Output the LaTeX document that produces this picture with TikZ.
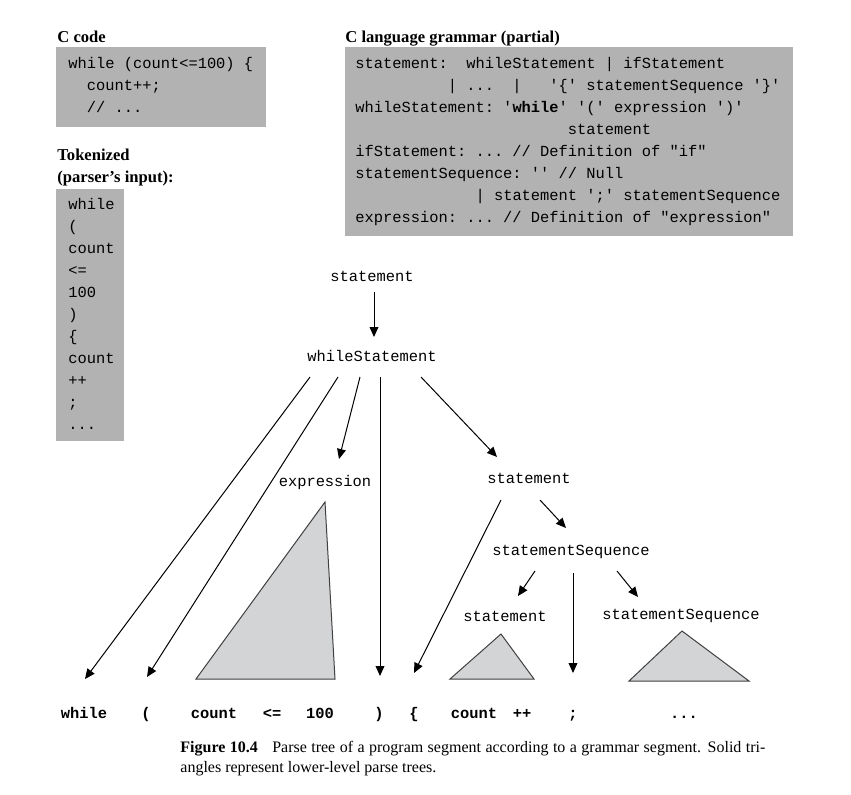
\documentclass[tikz,border=0pt]{standalone}
\usepackage{fontspec}
\setmainfont{Liberation Serif}
\setmonofont{Liberation Mono}[WordSpace={1,0,0}]
\usetikzlibrary{arrows.meta}
\definecolor{boxgray}{RGB}{178,178,178}
\definecolor{trigray}{RGB}{211,212,214}
\tikzset{
  code/.style={font=\ttfamily\fontsize{7.7}{11}\selectfont\frenchspacing, inner sep=0pt},
  nonterm/.style={code, anchor=base},
  termtok/.style={inner sep=0pt, anchor=base, font=\ttfamily\bfseries\fontsize{7.7}{11}\selectfont},
  heading/.style={inner sep=0pt, anchor=base west, font=\bfseries\fontsize{8.3}{11}\selectfont},
  arr/.style={-{Triangle[length=5pt,width=4.4pt]}, line width=0.5pt},
  subtree/.style={fill=trigray, draw=black!75, line width=0.5pt}
}
\begin{document}
\begin{tikzpicture}[x=0.5pt, y=-0.5pt]
  \useasboundingbox (0,0) rectangle (851,794);

  % source, grammar and token boxes (base = last line)
  \fill[boxgray] (56,47) rectangle (266,127);
  \fill[boxgray] (345,47) rectangle (793,236);
  \fill[boxgray] (56,189) rectangle (124,441);

  \node[heading] (hcode) at (57,42) {C code};
  \node[heading] (hgram) at (345,42) {C language grammar (partial)};
  \node[heading] (htok) at (57,160) {Tokenized};
  \node[heading] (htokb) at (57,182) {(parser’s input):};

  \node[code, align=left, anchor=base west] (csrc) at (68,112)
    {while (count<=100) \{\\~~count++;\\~~// ...};
  \node[code, align=left, anchor=base west] (gram) at (355,222)
    {statement:~~whileStatement | ifStatement\\
     ~~~~~~~~~~| ...~~|~~~'\{' statementSequence '\}'\\
     whileStatement: '\textbf{while}' '(' expression ')'\\
     ~~~~~~~~~~~~~~~~~~~~~~~statement\\
     ifStatement: ... // Definition of "if"\\
     statementSequence: '' // Null\\
     ~~~~~~~~~~~~~| statement ';' statementSequence\\
     expression: ... // Definition of "expression"};
  \node[code, align=left, anchor=base west] (toks) at (68,429)
    {while\\(\\count\\<=\\100\\)\\\{\\count\\++\\;\\...};

  % parse tree
  \node[nonterm] (stmtTop) at (372,281) {statement};
  \node[nonterm] (whileSt) at (372,361) {whileStatement};
  \node[nonterm] (expr) at (325,486) {expression};
  \node[nonterm] (stmtR) at (529,483) {statement};
  \node[nonterm] (seq) at (571,555) {statementSequence};
  \node[nonterm] (stmtL) at (505,621) {statement};
  \node[nonterm] (seqR) at (681,619) {statementSequence};

  % terminals
  \node[termtok] (tWhile) at (84,718) {while};
  \node[termtok] (tLParen) at (146,718) {(};
  \node[termtok] (tCount) at (214,718) {count};
  \node[termtok] (tLeq) at (272,718) {<=};
  \node[termtok] (tHundred) at (320,718) {100};
  \node[termtok] (tRParen) at (379,718) {)};
  \node[termtok] (tLBrace) at (414,718) {\{};
  \node[termtok] (tCountB) at (474,718) {count};
  \node[termtok] (tIncr) at (522,718) {++};
  \node[termtok] (tSemi) at (573,718) {;};
  \node[termtok] (tMore) at (684,718) {...};

  % lower-level parse trees
  \draw[subtree] (196,679) -- (325,502) -- (335,679) -- cycle;
  \draw[subtree] (450,679) -- (501,634) -- (534,679) -- cycle;
  \draw[subtree] (629,681) -- (682,631) -- (749,681) -- cycle;

  \draw[arr] ([shift={(2,11)}]stmtTop.base) -- ([shift={(2,-24)}]whileSt.base);
  \draw[arr] ([shift={(-62,16)}]whileSt.base) -- ([shift={(1,-39)}]tWhile.base);
  \draw[arr] ([shift={(-34,16)}]whileSt.base) -- ([shift={(1,-41)}]tLParen.base);
  \draw[arr] ([shift={(-12,16)}]whileSt.base) -- ([shift={(14,-27)}]expr.base);
  \draw[arr] ([shift={(8,16)}]whileSt.base) -- ([shift={(1,-42)}]tRParen.base);
  \draw[arr] ([shift={(49,16)}]whileSt.base) -- ([shift={(-32,-26)}]stmtR.base);
  \draw[arr] ([shift={(-28,17)}]stmtR.base) -- ([shift={(0,-45)}]tLBrace.base);
  \draw[arr] ([shift={(11,17)}]stmtR.base) -- ([shift={(-5,-27)}]seq.base);
  \draw[arr] ([shift={(-36,16)}]seq.base) -- ([shift={(13,-25)}]stmtL.base);
  \draw[arr] ([shift={(2,18)}]seq.base) -- ([shift={(0,-45)}]tSemi.base);
  \draw[arr] ([shift={(46,16)}]seq.base) -- ([shift={(-43,-22)}]seqR.base);

  % caption
  \node[anchor=base west, text width=292.5pt, align=justify, inner sep=0pt,
        font=\fontsize{8}{10}\selectfont] (caption) at (180,752)
    {\textbf{Figure 10.4}\hspace{0.9em}Parse tree of a program segment according to a grammar segment. Solid tri-\linebreak angles represent lower-level parse trees.};
\end{tikzpicture}
\end{document}
